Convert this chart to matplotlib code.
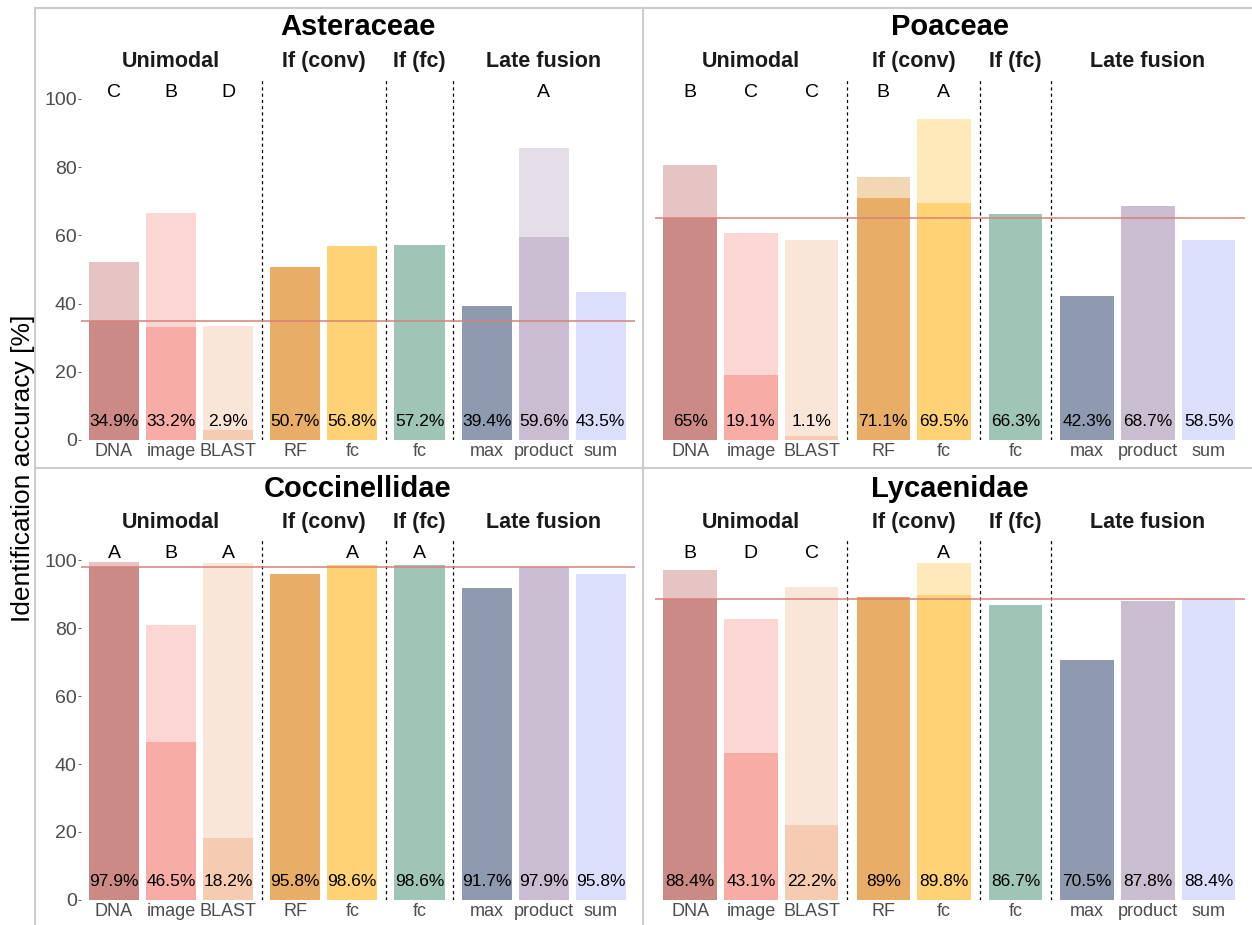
import matplotlib.pyplot as plt
import matplotlib.colors as mcolors
from matplotlib.lines import Line2D

plt.rcParams['font.family'] = ['Liberation Sans', 'DejaVu Sans']

methods = ['DNA', 'image', 'BLAST', 'RF', 'fc', 'fc', 'max', 'product', 'sum']
groups = ['Unimodal', 'If (conv)', 'If (fc)', 'Late fusion']
colors = ['#CC8A86', '#F7ACA5', '#F5CBB2', '#E8AE68', '#FFD275',
          '#9EC5B5', '#8E9AB0', '#CABDD2', '#DCDFFC']

families = ['Asteraceae', 'Poaceae', 'Coccinellidae', 'Lycaenidae']

# species-level accuracy (solid) and higher-level accuracy (light part)
species_acc = {
    'Asteraceae':    [34.9, 33.2, 2.9, 50.7, 56.8, 57.2, 39.4, 59.6, 43.5],
    'Poaceae':       [65, 19.1, 1.1, 71.1, 69.5, 66.3, 42.3, 68.7, 58.5],
    'Coccinellidae': [97.9, 46.5, 18.2, 95.8, 98.6, 98.6, 91.7, 97.9, 95.8],
    'Lycaenidae':    [88.4, 43.1, 22.2, 89, 89.8, 86.7, 70.5, 87.8, 88.4],
}
upper_acc = {
    'Asteraceae':    [52.2, 66.6, 33.4, 50.7, 56.8, 57.2, 39.4, 85.6, 43.5],
    'Poaceae':       [80.6, 60.7, 58.6, 77.1, 94.1, 66.3, 42.3, 68.7, 58.5],
    'Coccinellidae': [99.3, 80.9, 99.2, 95.8, 98.6, 98.6, 91.7, 97.9, 95.8],
    'Lycaenidae':    [97.0, 82.6, 92.1, 89, 99.1, 86.7, 70.5, 87.8, 88.4],
}
letters = {
    'Asteraceae':    ['C', 'B', 'D', '', '', '', '', 'A', ''],
    'Poaceae':       ['B', 'C', 'C', 'B', 'A', '', '', '', ''],
    'Coccinellidae': ['A', 'B', 'A', '', 'A', 'A', '', '', ''],
    'Lycaenidae':    ['B', 'D', 'C', '', 'A', '', '', '', ''],
}

xpos = [0, 1, 2, 3.18, 4.18, 5.36, 6.54, 7.54, 8.54]
group_x = [1, 3.68, 5.36, 7.54]
sep_x = [2.59, 4.77, 5.95]


def lighten(c, a=0.5):
    r, g, b = mcolors.to_rgb(c)
    return (1 - a + a * r, 1 - a + a * g, 1 - a + a * b)


fig = plt.figure(figsize=(12.52, 9.25), dpi=100)
W, H = 1252, 925

# panel boxes: (left, top, right, bottom) in pixels
boxes = [(81, 78.5, 635, 440), (655, 78.5, 1245, 440),
         (81, 539.6, 635, 900), (655, 539.6, 1245, 900)]

for k, fam in enumerate(families):
    l, t, r, b = boxes[k]
    ax = fig.add_axes([l / W, 1 - b / H, (r - l) / W, (b - t) / H])
    low = species_acc[fam]
    up = upper_acc[fam]

    for i in range(len(methods)):
        if up[i] > low[i]:
            ax.bar(xpos[i], up[i], width=0.88, color=lighten(colors[i]), zorder=1)
        ax.bar(xpos[i], low[i], width=0.88, color=colors[i], zorder=2)
        ax.text(xpos[i], 5.3, f'{low[i]:g}%', ha='center', va='center',
                fontsize=12.5, color='black', zorder=4)
        if letters[fam][i]:
            ax.text(xpos[i], 102, letters[fam][i], ha='center', va='center',
                    fontsize=14, clip_on=False)

    for s in sep_x:
        ax.axvline(s, color='black', linestyle=(0, (2.5, 2.5)), linewidth=0.9, zorder=3)

    ax.axhline(low[0], color='#D9807A', linewidth=1.1, zorder=3)

    for g, gx in zip(groups, group_x):
        ax.text(gx, 111, g, ha='center', va='center', fontsize=15.5,
                fontweight='bold', color='#1A1A1A', clip_on=False)
    ax.text(4.28, 121, fam, ha='center', va='center', fontsize=21,
            fontweight='bold', clip_on=False)

    ax.set_xlim(-0.58, 9.14)
    ax.set_ylim(0, 106)
    ax.set_xticks(xpos)
    ax.set_xticklabels(methods, fontsize=13, color='#4D4D4D')
    ax.tick_params(axis='x', length=0, pad=2)
    if k % 2 == 0:
        ax.set_yticks([0, 20, 40, 60, 80, 100])
        ax.tick_params(axis='y', length=2, width=0.6, color='#4D4D4D',
                       labelsize=14, labelcolor='#4D4D4D', pad=1)
    else:
        ax.set_yticks([])
    for sp in ax.spines.values():
        sp.set_visible(False)

# frame lines around the four panels
frame = '#CCCCCC'
fig.add_artist(Line2D([35 / W, 1], [1 - 8 / H, 1 - 8 / H], color=frame, lw=1.5))
fig.add_artist(Line2D([35 / W, 1], [1 - 468 / H, 1 - 468 / H], color=frame, lw=1.5))
fig.add_artist(Line2D([35 / W, 35 / W], [0, 1 - 8 / H], color=frame, lw=1.5))
fig.add_artist(Line2D([643 / W, 643 / W], [0, 1 - 8 / H], color=frame, lw=1.5))

fig.text(23 / W, 1 - 468 / H, 'Identification accuracy [%]', rotation=90,
         ha='center', va='center', fontsize=19)

fig.savefig('out.png', dpi=100)
